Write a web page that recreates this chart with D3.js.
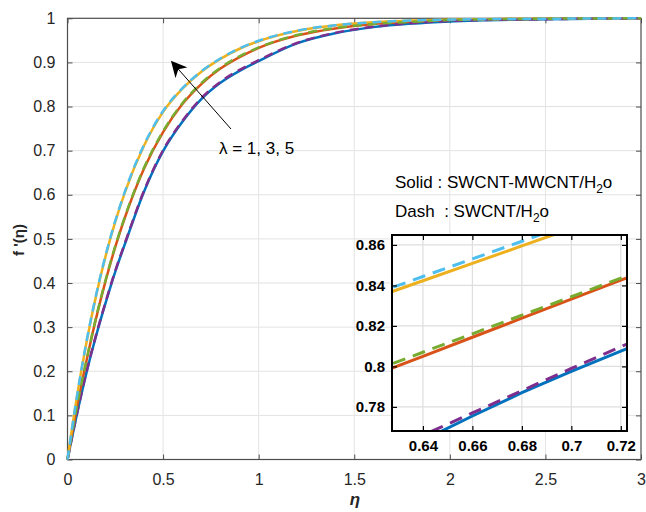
<!DOCTYPE html>
<html lang="en">
<head>
<meta charset="utf-8" />
<title>f'(eta) profiles</title>
<script src="https://cdn.jsdelivr.net/npm/d3@7"></script>
<style type="text/css">
    body { margin: 0; background: #fff; }
    svg { font-family: "Liberation Sans", Arial, Helvetica, sans-serif; }
    .tick-lbl { font-size: 16px; fill: #262626; }
    .inset-lbl { font-size: 15px; font-weight: bold; fill: #000; }
</style>
</head>
<body>
<svg id="canvas" width="646" height="512" xmlns="http://www.w3.org/2000/svg"></svg>
<script type="text/javascript">
    // main plot data
    var etaMain = [0, 0.05, 0.1, 0.15, 0.2, 0.25, 0.3, 0.4, 0.5, 0.6, 0.7, 0.8, 0.9, 1.0, 1.2, 1.4, 1.6, 1.8, 2.0, 2.5, 3.0];
    var hybridL1 = [0, 0.104, 0.198, 0.281, 0.356, 0.426, 0.488, 0.607, 0.699, 0.765, 0.817, 0.854, 0.881, 0.903, 0.943, 0.966, 0.980, 0.988, 0.993, 0.998, 1];
    var hybridL3 = [0, 0.120, 0.225, 0.321, 0.406, 0.482, 0.548, 0.659, 0.742, 0.805, 0.851, 0.886, 0.912, 0.933, 0.961, 0.977, 0.987, 0.992, 0.996, 0.999, 1];
    var hybridL5 = [0, 0.144, 0.267, 0.372, 0.462, 0.539, 0.605, 0.711, 0.788, 0.840, 0.879, 0.908, 0.931, 0.948, 0.971, 0.984, 0.991, 0.995, 0.997, 0.999, 1];
    var singleL1 = [0, 0.105, 0.200, 0.283, 0.358, 0.428, 0.490, 0.609, 0.701, 0.767, 0.819, 0.856, 0.883, 0.905, 0.944, 0.967, 0.981, 0.989, 0.994, 0.998, 1];
    var singleL3 = [0, 0.121, 0.227, 0.323, 0.408, 0.484, 0.550, 0.661, 0.744, 0.807, 0.853, 0.888, 0.914, 0.934, 0.962, 0.978, 0.987, 0.992, 0.996, 0.999, 1];
    var singleL5 = [0, 0.145, 0.269, 0.374, 0.464, 0.541, 0.607, 0.713, 0.790, 0.841, 0.880, 0.909, 0.932, 0.949, 0.972, 0.984, 0.991, 0.995, 0.997, 0.999, 1];

    // zoomed inset data
    var etaInset = [0.62, 0.64, 0.66, 0.68, 0.70, 0.72, 0.73];
    var insetHybridL1 = [0.7525, 0.7635, 0.7755, 0.787, 0.7975, 0.8075, 0.8125];
    var insetSingleL1 = [0.755, 0.766, 0.777, 0.788, 0.799, 0.8097, 0.815];
    var insetHybridL3 = [0.7956, 0.805, 0.8144, 0.8238, 0.8332, 0.8426, 0.8473];
    var insetSingleL3 = [0.7978, 0.807, 0.8161, 0.8253, 0.8344, 0.8436, 0.8482];
    var insetHybridL5 = [0.8337, 0.8423, 0.8509, 0.8595, 0.8681, 0.8767, 0.881];
    var insetSingleL5 = [0.8356, 0.8444, 0.8531, 0.8618, 0.8706, 0.8793, 0.8837];

    var xTicks = [0, 0.5, 1, 1.5, 2, 2.5, 3];
    var yTicks = [0, 0.1, 0.2, 0.3, 0.4, 0.5, 0.6, 0.7, 0.8, 0.9, 1];
    var insetXTicks = [0.64, 0.66, 0.68, 0.7, 0.72];
    var insetYTicks = [0.78, 0.8, 0.82, 0.84, 0.86];

    var colors = {
        blue: "#0072BD", red: "#D95319", yellow: "#EDB120",
        purple: "#7E2F8E", green: "#77AC30", cyan: "#4DBEEE"
    };

    var svg = d3.select("#canvas");

    // main axes box
    var m = { left: 67.5, right: 641, top: 18.3, bottom: 459.5 };
    var x = d3.scaleLinear().domain([0, 3]).range([m.left, m.right]);
    var y = d3.scaleLinear().domain([0, 1]).range([m.bottom, m.top]);

    var grid = svg.append("g");
    grid.selectAll(".gx").data(xTicks.slice(1, -1)).enter().append("line")
        .attr("x1", function (d) { return x(d); }).attr("x2", function (d) { return x(d); })
        .attr("y1", m.top).attr("y2", m.bottom)
        .attr("stroke", "#e3e3e3").attr("stroke-width", 1);
    grid.selectAll(".gy").data(yTicks.slice(1, -1)).enter().append("line")
        .attr("y1", function (d) { return y(d); }).attr("y2", function (d) { return y(d); })
        .attr("x1", m.left).attr("x2", m.right)
        .attr("stroke", "#e3e3e3").attr("stroke-width", 1);

    // axes with inward ticks, MATLAB style box
    var axisColor = "#4d4d4d";
    function styleAxis(g) {
        g.select(".domain").remove();
        g.selectAll(".tick line").attr("stroke", axisColor);
        g.selectAll(".tick text").attr("class", "tick-lbl").attr("fill", "#262626");
    }
    svg.append("g").attr("transform", "translate(0," + m.bottom + ")")
        .call(d3.axisBottom(x).tickValues(xTicks).tickFormat(d3.format("")).tickSizeInner(-5).tickSizeOuter(0).tickPadding(14))
        .call(styleAxis);
    svg.append("g").attr("transform", "translate(0," + m.top + ")")
        .call(d3.axisTop(x).tickValues(xTicks).tickFormat("").tickSizeInner(-5).tickSizeOuter(0))
        .call(styleAxis);
    svg.append("g").attr("transform", "translate(" + m.left + ",0)")
        .call(d3.axisLeft(y).tickValues(yTicks).tickFormat(d3.format("")).tickSizeInner(-5).tickSizeOuter(0).tickPadding(12))
        .call(styleAxis);
    svg.append("g").attr("transform", "translate(" + m.right + ",0)")
        .call(d3.axisRight(y).tickValues(yTicks).tickFormat("").tickSizeInner(-5).tickSizeOuter(0))
        .call(styleAxis);
    svg.append("rect")
        .attr("x", m.left).attr("y", m.top)
        .attr("width", m.right - m.left).attr("height", m.bottom - m.top)
        .attr("fill", "none").attr("stroke", axisColor).attr("stroke-width", 1.2);

    var line = d3.line()
        .x(function (d) { return x(d[0]); })
        .y(function (d) { return y(d[1]); })
        .curve(d3.curveMonotoneX);

    var mainSeries = [
        { v: hybridL1, c: colors.blue, dash: null },
        { v: hybridL3, c: colors.red, dash: null },
        { v: hybridL5, c: colors.yellow, dash: null },
        { v: singleL1, c: colors.purple, dash: "9,6" },
        { v: singleL3, c: colors.green, dash: "9,6" },
        { v: singleL5, c: colors.cyan, dash: "9,6" }
    ];
    svg.append("g").selectAll("path").data(mainSeries).enter().append("path")
        .attr("d", function (s) { return line(d3.zip(etaMain, s.v)); })
        .attr("fill", "none")
        .attr("stroke", function (s) { return s.c; })
        .attr("stroke-width", 2.5)
        .attr("stroke-dasharray", function (s) { return s.dash; });

    // axis labels
    svg.append("text")
        .attr("transform", "translate(24,240) rotate(-90)")
        .attr("text-anchor", "middle")
        .style("font-size", "15px").style("font-weight", "bold").attr("fill", "#262626")
        .text("f '(η)");
    svg.append("text")
        .attr("x", 355).attr("y", 505)
        .attr("text-anchor", "middle")
        .style("font-size", "17px").style("font-weight", "bold").style("font-style", "italic")
        .attr("fill", "#262626")
        .text("η");

    // arrow annotation
    var defs = svg.append("defs");
    defs.append("marker")
        .attr("id", "head").attr("viewBox", "0 0 10 10")
        .attr("refX", 9).attr("refY", 5)
        .attr("markerWidth", 16).attr("markerHeight", 16)
        .attr("markerUnits", "userSpaceOnUse")
        .attr("orient", "auto")
        .append("path").attr("d", "M0,0 L10,5 L0,10 L3,5 Z").attr("fill", "#000");
    svg.append("line")
        .attr("x1", 231).attr("y1", 129).attr("x2", 172).attr("y2", 62)
        .attr("stroke", "#000").attr("stroke-width", 1)
        .attr("marker-end", "url(#head)");
    svg.append("text")
        .attr("x", 219).attr("y", 154)
        .style("font-size", "17px").attr("fill", "#000")
        .text("λ = 1, 3, 5");

    // legend text
    var t1 = svg.append("text").attr("x", 395).attr("y", 188)
        .style("font-size", "17px").attr("fill", "#000");
    t1.append("tspan").text("Solid : SWCNT-MWCNT/H");
    t1.append("tspan").attr("dy", 5).style("font-size", "12px").text("2");
    t1.append("tspan").attr("dy", -5).text("o");
    var t2 = svg.append("text").attr("x", 395).attr("y", 217)
        .style("font-size", "17px").attr("fill", "#000")
        .attr("xml:space", "preserve");
    t2.append("tspan").text("Dash  : SWCNT/H");
    t2.append("tspan").attr("dy", 5).style("font-size", "12px").text("2");
    t2.append("tspan").attr("dy", -5).text("o");

    // inset
    var n = { left: 392, right: 627, top: 235, bottom: 431 };
    var xi = d3.scaleLinear().domain([0.6275, 0.7225]).range([n.left, n.right]);
    var yi = d3.scaleLinear().domain([0.7681, 0.8649]).range([n.bottom, n.top]);

    var inset = svg.append("g");
    inset.append("rect")
        .attr("x", n.left).attr("y", n.top)
        .attr("width", n.right - n.left).attr("height", n.bottom - n.top)
        .attr("fill", "#fff");
    inset.selectAll(".igx").data(insetXTicks).enter().append("line")
        .attr("x1", function (d) { return xi(d); }).attr("x2", function (d) { return xi(d); })
        .attr("y1", n.top).attr("y2", n.bottom)
        .attr("stroke", "#dedede").attr("stroke-width", 1.2);
    inset.selectAll(".igy").data(insetYTicks).enter().append("line")
        .attr("y1", function (d) { return yi(d); }).attr("y2", function (d) { return yi(d); })
        .attr("x1", n.left).attr("x2", n.right)
        .attr("stroke", "#dedede").attr("stroke-width", 1.2);

    defs.append("clipPath").attr("id", "insetClip")
        .append("rect")
        .attr("x", n.left).attr("y", n.top)
        .attr("width", n.right - n.left).attr("height", n.bottom - n.top);

    var iline = d3.line()
        .x(function (d) { return xi(d[0]); })
        .y(function (d) { return yi(d[1]); });

    var insetSeries = [
        { v: insetHybridL1, c: colors.blue, dash: null },
        { v: insetHybridL3, c: colors.red, dash: null },
        { v: insetHybridL5, c: colors.yellow, dash: null },
        { v: insetSingleL1, c: colors.purple, dash: "13,8" },
        { v: insetSingleL3, c: colors.green, dash: "13,8" },
        { v: insetSingleL5, c: colors.cyan, dash: "13,8" }
    ];
    inset.append("g").attr("clip-path", "url(#insetClip)")
        .selectAll("path").data(insetSeries).enter().append("path")
        .attr("d", function (s) { return iline(d3.zip(etaInset, s.v)); })
        .attr("fill", "none")
        .attr("stroke", function (s) { return s.c; })
        .attr("stroke-width", 3)
        .attr("stroke-dasharray", function (s) { return s.dash; });

    function styleInset(g) {
        g.select(".domain").remove();
        g.selectAll(".tick line").attr("stroke", "#000").attr("stroke-width", 1.2);
        g.selectAll(".tick text").attr("class", "inset-lbl").attr("fill", "#000");
    }
    inset.append("g").attr("transform", "translate(0," + n.bottom + ")")
        .call(d3.axisBottom(xi).tickValues(insetXTicks).tickFormat(d3.format("")).tickSizeInner(-5).tickSizeOuter(0).tickPadding(9))
        .call(styleInset);
    inset.append("g").attr("transform", "translate(0," + n.top + ")")
        .call(d3.axisTop(xi).tickValues(insetXTicks).tickFormat("").tickSizeInner(-5).tickSizeOuter(0))
        .call(styleInset);
    inset.append("g").attr("transform", "translate(" + n.left + ",0)")
        .call(d3.axisLeft(yi).tickValues(insetYTicks).tickFormat(d3.format("")).tickSizeInner(-5).tickSizeOuter(0).tickPadding(7))
        .call(styleInset);
    inset.append("g").attr("transform", "translate(" + n.right + ",0)")
        .call(d3.axisRight(yi).tickValues(insetYTicks).tickFormat("").tickSizeInner(-5).tickSizeOuter(0))
        .call(styleInset);
    inset.append("rect")
        .attr("x", n.left).attr("y", n.top)
        .attr("width", n.right - n.left).attr("height", n.bottom - n.top)
        .attr("fill", "none").attr("stroke", "#000").attr("stroke-width", 2);
</script>
</body>
</html>
